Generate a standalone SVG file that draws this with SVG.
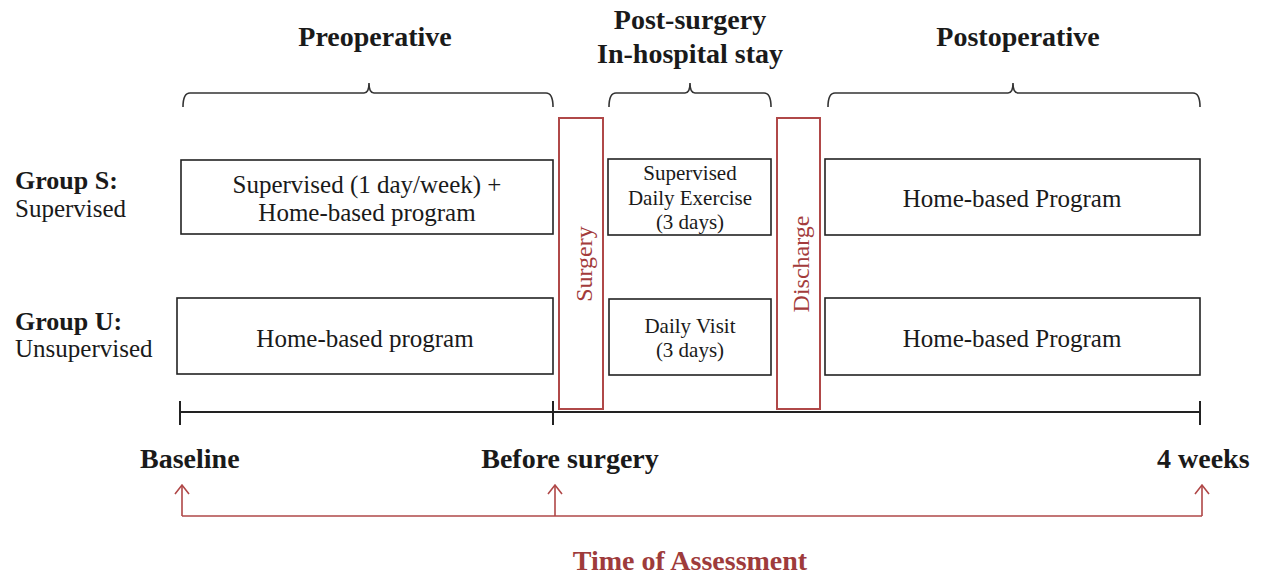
<svg xmlns="http://www.w3.org/2000/svg" width="1265" height="577" viewBox="0 0 1265 577">
  <style>
    text { font-family: "Liberation Serif", "Times New Roman", serif; fill: #1a1a1a; }
    .hdr { font-size: 28px; font-weight: bold; text-anchor: middle; }
    .grp { font-size: 25px; }
    .grpb { font-size: 26px; font-weight: bold; }
    .box { fill: #fff; stroke: #222; stroke-width: 1.6; }
    .bt { font-size: 25px; text-anchor: middle; }
    .st { font-size: 21px; text-anchor: middle; }
    .event { fill: #fff; stroke: #b04848; stroke-width: 2; }
    .et { font-size: 24px; fill: #a33b3b; text-anchor: middle; }
    .brace { fill: none; stroke: #333; stroke-width: 1.6; }
    .axis { fill: none; stroke: #222; stroke-width: 2; }
    .tp { font-size: 28px; font-weight: bold; }
    .assess { fill: none; stroke: #b04848; stroke-width: 1.6; }
    .red { fill: #9e3b3b; }
  </style>

  <!-- phase headings -->
  <g id="phase-headings">
    <text class="hdr" x="375" y="46">Preoperative</text>
    <text class="hdr" x="690" y="29">Post-surgery</text>
    <text class="hdr" x="690" y="63">In-hospital stay</text>
    <text class="hdr" x="1018" y="46">Postoperative</text>
  </g>

  <!-- braces spanning each phase -->
  <g id="braces">
    <path class="brace" d="M183,107 Q183,93 190,93 L364,93 Q369,93 369,83 Q369,93 374,93 L546,93 Q553,93 553,107"/>
    <path class="brace" d="M609,107 Q609,93 616,93 L685,93 Q690,93 690,83 Q690,93 695,93 L764,93 Q771,93 771,107"/>
    <path class="brace" d="M828,107 Q828,93 835,93 L1008,93 Q1013,93 1013,83 Q1013,93 1018,93 L1193,93 Q1200,93 1200,107"/>
  </g>

  <!-- group labels -->
  <g id="group-s-label">
    <text class="grpb" x="15" y="189">Group S:</text>
    <text class="grp" x="15" y="217">Supervised</text>
  </g>
  <g id="group-u-label">
    <text class="grpb" x="15" y="330">Group U:</text>
    <text class="grp" x="15" y="357">Unsupervised</text>
  </g>

  <!-- group S programme -->
  <g id="s-pre">
    <rect class="box" x="181" y="160" width="372" height="74"/>
    <text class="bt" x="367" y="193">Supervised (1 day/week) +</text>
    <text class="bt" x="367" y="221">Home-based program</text>
  </g>
  <g id="s-hospital">
    <rect class="box" x="608" y="159" width="163" height="76"/>
    <text class="st" x="690" y="180">Supervised</text>
    <text class="st" x="690" y="205">Daily Exercise</text>
    <text class="st" x="690" y="229">(3 days)</text>
  </g>
  <g id="s-post">
    <rect class="box" x="825" y="159" width="375" height="76"/>
    <text class="bt" x="1012" y="207">Home-based Program</text>
  </g>

  <!-- group U programme -->
  <g id="u-pre">
    <rect class="box" x="177" y="298" width="376" height="76"/>
    <text class="bt" x="365" y="347">Home-based program</text>
  </g>
  <g id="u-hospital">
    <rect class="box" x="609" y="299" width="162" height="76"/>
    <text class="st" x="690" y="333">Daily Visit</text>
    <text class="st" x="690" y="357">(3 days)</text>
  </g>
  <g id="u-post">
    <rect class="box" x="825" y="298" width="375" height="77"/>
    <text class="bt" x="1012" y="347">Home-based Program</text>
  </g>

  <!-- timeline -->
  <g id="timeline">
    <path class="axis" d="M180,412 H1200 M180,401 V425 M553,401 V425 M1200,401 V425"/>
  </g>

  <!-- surgery / discharge events -->
  <g id="surgery">
    <rect class="event" x="559" y="118" width="44" height="291"/>
    <text class="et" transform="translate(592,264) rotate(-90)">Surgery</text>
  </g>
  <g id="discharge">
    <rect class="event" x="777" y="118" width="43" height="291"/>
    <text class="et" transform="translate(809,264) rotate(-90)">Discharge</text>
  </g>

  <!-- time points -->
  <g id="time-points">
    <text class="tp" x="140" y="468">Baseline</text>
    <text class="tp" x="570" y="468" text-anchor="middle">Before surgery</text>
    <text class="tp" x="1157" y="468">4 weeks</text>
  </g>

  <!-- assessment connectors -->
  <g id="connectors">
    <path class="assess" d="M182,516 H1202 M182,485 V516 M555,485 V516 M1202,485 V516"/>
    <path class="assess" d="M175,494 L182,485 L189,494 M548,494 L555,485 L562,494 M1195,494 L1202,485 L1209,494"/>
  </g>
  <g id="assessment-label">
    <text class="tp red" x="690" y="570" text-anchor="middle">Time of Assessment</text>
  </g>
</svg>
